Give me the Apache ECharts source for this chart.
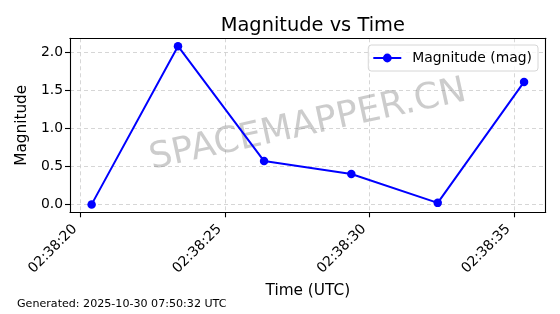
<!DOCTYPE html>
<html>
<head>
<meta charset="utf-8">
<script src="https://cdn.jsdelivr.net/npm/echarts@6/dist/echarts.min.js"></script>
<style>html,body{margin:0;padding:0;background:#fff}#c{width:560px;height:314px}</style>
</head>
<body>
<div id="c"></div>
<script>
// Data
const times = ["02:38:20.38", "02:38:23.37", "02:38:26.35", "02:38:29.37", "02:38:32.36", "02:38:35.35"];
const magnitudes = [0.0, 2.08, 0.57, 0.40, 0.02, 1.61];
const xTickSeconds = [20, 25, 30, 35];
const yTicks = [0.0, 0.5, 1.0, 1.5, 2.0];
const seriesName = "Magnitude (mag)";
const titleText = "Magnitude vs Time";
const footerText = "Generated: 2025-10-30 07:50:32 UTC";

function toSec(t){ const p = t.split(":"); return (+p[0])*3600 + (+p[1])*60 + (+p[2]) - (2*3600 + 38*60); }
function fmtSec(s){ const v = Math.round(s); return "02:38:" + String(v).padStart(2, "0"); }

const xs = times.map(toSec);
const span = Math.max(...xs) - Math.min(...xs);
const xMin = Math.min(...xs) - span*0.05, xMax = Math.max(...xs) + span*0.05;
const yspan = Math.max(...magnitudes) - Math.min(...magnitudes);
const yMin = Math.min(...magnitudes) - yspan*0.05, yMax = Math.max(...magnitudes) + yspan*0.05;

const FONT = "DejaVu Sans";
const chart = echarts.init(document.getElementById('c'), null, {renderer: 'canvas'});
const gridLine = {show: true, lineStyle: {color: '#cccccc', type: [4, 3], width: 0.8}};
chart.setOption({
  animation: false,
  backgroundColor: '#fff',
  textStyle: {fontFamily: FONT},
  title: [
    {text: titleText, left: 307.8, top: 11, textAlign: 'center',
     textStyle: {fontFamily: FONT, fontSize: 19.4, fontWeight: 'normal', color: '#000'}},
    {text: footerText, left: 17, top: 299, padding: 0,
     textStyle: {fontFamily: FONT, fontSize: 11.1, fontWeight: 'normal', color: '#000'}}
  ],
  grid: {left: 70, right: 14.3, top: 38.3, bottom: 101.7, containLabel: false},
  legend: {
    data: [seriesName], right: 22, top: 45, orient: 'vertical',
    itemWidth: 28, itemHeight: 11, itemGap: 4,
    padding: [6, 6, 6, 4],
    borderColor: '#d6d6d6', borderWidth: 1, borderRadius: 3,
    backgroundColor: 'rgba(255,255,255,0.8)',
    textStyle: {fontFamily: FONT, fontSize: 13.9, color: '#000', padding: [0, 0, 0, 6]}
  },
  xAxis: [{
    type: 'value', min: xMin, max: xMax, position: 'bottom',
    name: 'Time (UTC)', nameLocation: 'middle', nameGap: 70,
    nameTextStyle: {fontFamily: FONT, fontSize: 15.3, color: '#000'},
    axisLine: {show: true, onZero: false, lineStyle: {color: '#000', width: 1.1}},
    axisTick: {show: true, length: 5, lineStyle: {color: '#000', width: 1.1}, customValues: xTickSeconds},
    axisLabel: {rotate: 45, margin: 9, padding: [0, 8, 0, 0], fontFamily: FONT, fontSize: 13.9, color: '#000', customValues: xTickSeconds, formatter: fmtSec},
    splitLine: gridLine
  }, {
    type: 'value', min: xMin, max: xMax, position: 'top',
    axisLine: {show: true, onZero: false, lineStyle: {color: '#000', width: 1.1}},
    axisTick: {show: false}, axisLabel: {show: false}, splitLine: {show: false}
  }],
  yAxis: [{
    type: 'value', min: yMin, max: yMax, position: 'left',
    name: 'Magnitude', nameLocation: 'middle', nameGap: 33,
    nameTextStyle: {fontFamily: FONT, fontSize: 15.3, color: '#000'},
    axisLine: {show: true, onZero: false, lineStyle: {color: '#000', width: 1.1}},
    axisTick: {show: true, length: 5, lineStyle: {color: '#000', width: 1.1}, customValues: yTicks},
    axisLabel: {margin: 7, fontFamily: FONT, fontSize: 13.9, color: '#000', customValues: yTicks, formatter: v => v.toFixed(1)},
    splitLine: gridLine
  }, {
    type: 'value', min: yMin, max: yMax, position: 'right',
    axisLine: {show: true, onZero: false, lineStyle: {color: '#000', width: 1.1}},
    axisTick: {show: false}, axisLabel: {show: false}, splitLine: {show: false}
  }],
  graphic: [{
    type: 'text', x: 307.8, y: 125.3, rotation: 12.3 * Math.PI / 180, z: 50,
    style: {text: 'SPACEMAPPER.CN', fontFamily: FONT, fontSize: 36, fill: 'rgba(128,128,128,0.4)', align: 'center', verticalAlign: 'middle'}
  }],
  series: [{
    name: seriesName, type: 'line', xAxisIndex: 0, yAxisIndex: 0, z: 100,
    data: xs.map((x, i) => [x, magnitudes[i]]),
    symbol: 'circle', symbolSize: 8.5, showSymbol: true,
    lineStyle: {color: '#0000ff', width: 2},
    itemStyle: {color: '#0000ff'}
  }]
});
</script>
</body>
</html>
